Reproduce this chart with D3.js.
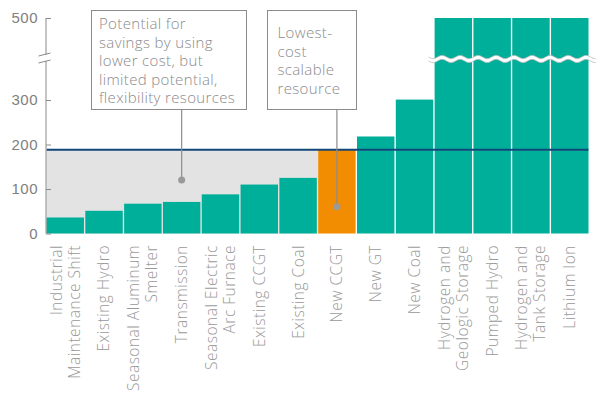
<!DOCTYPE html>
<html>
<head>
<meta charset="utf-8">
<script src="https://cdn.jsdelivr.net/npm/d3@7/dist/d3.min.js"></script>
<style>
  html, body { margin: 0; padding: 0; background: #fff; }
  svg { display: block; font-family: "Open Sans", "Noto Sans", sans-serif; font-weight: 300; }
</style>
</head>
<body>
<svg id="chart" width="600" height="396"></svg>
<script>
// Resource names (each entry is one label, split into lines)
const categories = [
  ["Industrial", "Maintenance Shift"],
  ["Existing Hydro"],
  ["Seasonal Aluminum", "Smelter"],
  ["Transmission"],
  ["Seasonal Electric", "Arc Furnace"],
  ["Existing CCGT"],
  ["Existing Coal"],
  ["New CCGT"],
  ["New GT"],
  ["New Coal"],
  ["Hydrogen and", "Geologic Storage"],
  ["Pumped Hydro"],
  ["Hydrogen and", "Tank Storage"],
  ["Lithium Ion"]
];
// Cost per resource; the four storage options run past the axis break and are capped at 500
const costs = [36, 51, 67, 71, 88, 110, 125, 188, 218, 301, 500, 500, 500, 500];
const highlighted = ["New CCGT"];
const capped = [false, false, false, false, false, false, false, false, false, false, true, true, true, true];
const benchmark = 188;
const yTicks = [0, 100, 200, 300, 500];
const annotations = [
  { lines: ["Potential for", "savings by using", "lower cost, but", "limited potential,", "flexibility resources"], target: "Transmission", value: 120 },
  { lines: ["Lowest-", "cost", "scalable", "resource"], target: "New CCGT", value: 60 }
];

const svg = d3.select("#chart");
const left = 46.5, right = 588.5;
const teal = "#00af9a", orange = "#f28c00", navy = "#12477a";
const gray = "#8a8a8a";

const x = d3.scaleBand()
  .domain(categories.map(d => d.join(" ")))
  .range([left, right])
  .paddingInner(0.035)
  .paddingOuter(0.0);

// Piecewise scale: compressed segment above 300 to accommodate the axis break
const y = d3.scaleLinear().domain([0, 300, 500]).range([233.5, 100, 18]);

const names = categories.map(d => d.join(" "));
const ccgtIndex = names.indexOf("New CCGT");

// Shaded savings region behind the lower-cost resources
svg.append("rect")
  .attr("x", left)
  .attr("y", y(benchmark))
  .attr("width", x(names[ccgtIndex]) - left)
  .attr("height", y(0) - y(benchmark))
  .attr("fill", "#e3e3e3");

// Bars
svg.append("g").selectAll("rect")
  .data(costs)
  .join("rect")
  .attr("x", (d, i) => x(names[i]))
  .attr("y", d => y(d))
  .attr("width", x.bandwidth())
  .attr("height", d => y(0) - y(d))
  .attr("fill", (d, i) => highlighted.includes(names[i]) ? orange : teal);

// Wavy break across the capped bars
const cappedIdx = capped.map((c, i) => c ? i : -1).filter(i => i >= 0);
const wx0 = x(names[cappedIdx[0]]) - 6;
const wx1 = x(names[cappedIdx[cappedIdx.length - 1]]) + x.bandwidth() + 8;
const wy = 57;
const period = 18, amp = 1.6, thick = 4;
const topPts = [], botPts = [];
for (let px = wx0; px <= wx1 + 0.01; px += 1) {
  const s = Math.sin((px - wx0) / period * 2 * Math.PI) * amp;
  topPts.push([px, wy + s]);
  botPts.push([px, wy + thick + s]);
}
const line = d3.line();
svg.append("path")
  .attr("d", line(topPts) + "L" + line(botPts.slice().reverse()).slice(1) + "Z")
  .attr("fill", "#fff");
svg.append("path").attr("d", line(topPts)).attr("fill", "none").attr("stroke", "#b5b5b5").attr("stroke-width", 0.8);
svg.append("path").attr("d", line(botPts)).attr("fill", "none").attr("stroke", "#b5b5b5").attr("stroke-width", 0.8);

// Benchmark line at the lowest-cost scalable resource
svg.append("line")
  .attr("x1", left).attr("x2", right)
  .attr("y1", y(benchmark)).attr("y2", y(benchmark))
  .attr("stroke", navy).attr("stroke-width", 2);

// Y axis
const yAxis = d3.axisLeft(y).tickValues(yTicks).tickSize(-5).tickPadding(9).tickFormat(d3.format("d"));
const ga = svg.append("g").attr("transform", `translate(${left - 0.5},0)`).call(yAxis);
ga.select(".domain").attr("stroke", gray).attr("d", `M0,${y(500)}V${y(0)}`);
ga.selectAll(".tick line").attr("stroke", gray);
ga.selectAll(".tick text").attr("fill", "#808080").attr("font-size", 15).attr("x", -8)
  .style("font-family", "inherit").style("font-weight", 300).style("letter-spacing", "0.5px");

// Axis break marks
const by = 54;
svg.append("rect").attr("x", left - 3).attr("y", by + 1).attr("width", 6).attr("height", 6).attr("fill", "#fff");
[0, 7].forEach(o => {
  svg.append("line")
    .attr("x1", left - 8).attr("x2", left + 4)
    .attr("y1", by + o + 2).attr("y2", by + o - 1)
    .attr("stroke", gray).attr("stroke-width", 1);
});

// Category labels, rotated
const lab = svg.append("g").selectAll("text")
  .data(categories)
  .join("text")
  .attr("transform", (d, i) => `translate(${x(names[i]) + x.bandwidth() / 2},245) rotate(-90)`)
  .attr("text-anchor", "end")
  .attr("fill", "#999")
  .attr("font-size", 15.5)
  .style("letter-spacing", "0.5px");
lab.selectAll("tspan")
  .data(d => d.map((t, j) => ({ t, j, n: d.length })))
  .join("tspan")
  .attr("x", 0)
  .attr("y", d => (d.j - (d.n - 1) / 2) * 18)
  .attr("dy", "0.35em")
  .text(d => d.t);

// Annotation boxes with leader lines
const boxes = [
  { x0: 91.5, x1: 246.5, y0: 10.5, y1: 109.5, tx: 99 },
  { x0: 267.5, x1: 356.5, y0: 10.5, y1: 109.5, tx: 277.5 }
];
annotations.forEach((a, k) => {
  const b = boxes[k];
  const cx = x(a.target) + x.bandwidth() / 2;
  const g = svg.append("g");
  g.append("rect")
    .attr("x", b.x0).attr("y", b.y0)
    .attr("width", b.x1 - b.x0).attr("height", b.y1 - b.y0)
    .attr("fill", "#fff").attr("stroke", "#8c8c8c").attr("stroke-width", 1);
  g.append("line")
    .attr("x1", cx).attr("x2", cx)
    .attr("y1", b.y1).attr("y2", y(a.value))
    .attr("stroke", "#8c8c8c").attr("stroke-width", 1.2);
  g.append("circle")
    .attr("cx", cx).attr("cy", y(a.value)).attr("r", 3.5)
    .attr("fill", "#9a9a9a");
  g.append("text")
    .attr("fill", "#8a8a8a").attr("font-size", 15)
    .style("letter-spacing", "0.35px")
    .selectAll("tspan")
    .data(a.lines)
    .join("tspan")
    .attr("x", b.tx)
    .attr("y", (d, i) => (k === 0 ? 29 : 38) + i * 18.5)
    .text(d => d);
});
</script>
</body>
</html>
